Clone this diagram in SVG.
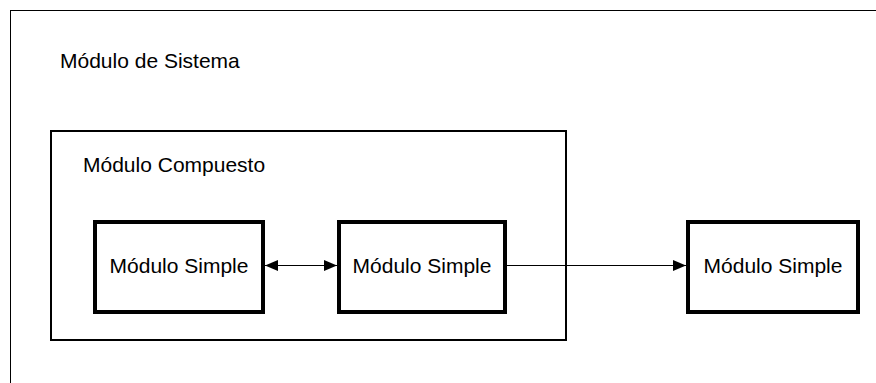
<svg xmlns="http://www.w3.org/2000/svg" width="876" height="383" viewBox="0 0 876 383">
  <style>
    text { font-family: "Liberation Sans", Arial, sans-serif; font-size: 21px; fill: #000; }
    .simple rect { fill: #fff; stroke: #000; stroke-width: 4; }
    .conn { stroke: #000; stroke-width: 1; fill: none; }
  </style>
  <defs>
    <marker id="arrow" viewBox="0 0 13 11" refX="13" refY="5.5" markerWidth="13" markerHeight="11" markerUnits="userSpaceOnUse" orient="auto-start-reverse">
      <path d="M0,0 L13,5.5 L0,11 z" fill="#000"/>
    </marker>
  </defs>
  <rect width="876" height="383" fill="#fff"/>

  <!-- system module frame -->
  <g id="sistema">
    <rect x="10.5" y="10.5" width="880" height="390" fill="none" stroke="#000" stroke-width="1"/>
    <text x="60" y="68">Módulo de Sistema</text>
  </g>

  <!-- composite module -->
  <g id="compuesto">
    <rect x="51" y="131" width="515" height="209" fill="none" stroke="#000" stroke-width="2"/>
    <text x="83" y="172">Módulo Compuesto</text>
  </g>

  <g id="simple1" class="simple">
    <rect x="95" y="222" width="168" height="90"/>
    <text x="179" y="273" text-anchor="middle">Módulo Simple</text>
  </g>
  <g id="simple2" class="simple">
    <rect x="339" y="222" width="166" height="90"/>
    <text x="422" y="273" text-anchor="middle">Módulo Simple</text>
  </g>
  <g id="simple3" class="simple">
    <rect x="688" y="222" width="170" height="90"/>
    <text x="773" y="273" text-anchor="middle">Módulo Simple</text>
  </g>

  <!-- connectors -->
  <g id="connectors">
    <line class="conn" x1="265" y1="265.5" x2="337" y2="265.5" marker-start="url(#arrow)" marker-end="url(#arrow)"/>
    <line class="conn" x1="507" y1="265.5" x2="686" y2="265.5" marker-end="url(#arrow)"/>
  </g>
</svg>
